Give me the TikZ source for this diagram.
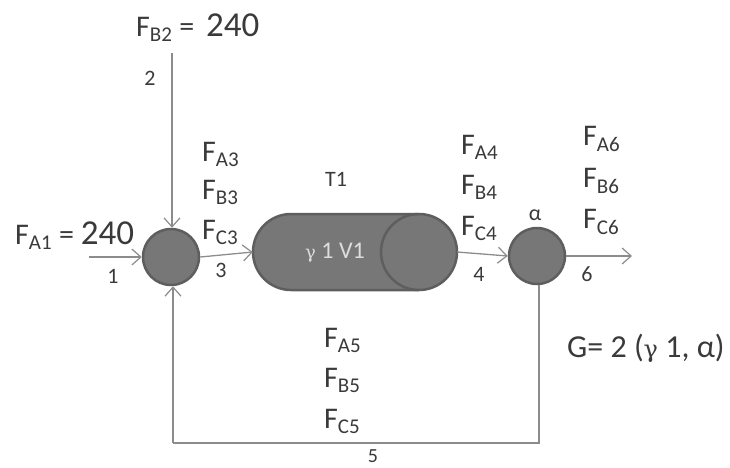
\documentclass[tikz,border=0pt]{standalone}
\usepackage{fontspec}
\setmainfont{Carlito}
\newfontfamily\gk{DejaVu Serif}
\usetikzlibrary{arrows.meta}
\definecolor{fillg}{HTML}{777777}
\definecolor{edgeg}{HTML}{5E5E5E}
\definecolor{lineg}{HTML}{8C8C8C}
\definecolor{textg}{HTML}{3A3A3A}
\newcommand{\lab}[2]{F\textsubscript{#1#2}}
\newcommand{\num}[1]{{\fontsize{35}{36}\selectfont #1}}
\tikzset{x=1pt,y=-1pt,
 unit/.style={circle,draw=edgeg,fill=fillg,line width=2.5pt,minimum size=56pt,inner sep=0pt},
 flow/.style={draw=lineg,line width=1.3pt,-{Straight Barb[length=9pt,width=16pt,line width=1.2pt]}},
 plain/.style={draw=lineg,line width=1.3pt},
 big/.style={font=\fontsize{30}{32}\selectfont,text=textg,inner sep=0pt},
 small/.style={font=\fontsize{22}{24}\selectfont,text=textg,inner sep=0pt}}
\begin{document}
\begin{tikzpicture}
\useasboundingbox (0,0) rectangle (730,467);
\node[unit] (m) at (171,257) {};
\node[unit] (s) at (537,256) {};
\path[draw=edgeg,fill=fillg,line width=2.5pt] (291,214) -- (419,214) arc[start angle=-90,end angle=90,radius=38] -- (291,290) arc[start angle=90,end angle=270,radius=38] -- cycle;
\draw[draw=edgeg,line width=2.5pt] (419,214) arc[start angle=-90,end angle=-270,radius=38];
\node[inner sep=0pt,minimum width=204pt,minimum height=78pt] (t) at (355,252) {};
\node[font=\fontsize{24}{26}\selectfont,text=white!75!fillg,inner sep=0pt] (tl) at (335,253) {{\fontsize{18}{22}\gk γ} 1 V1};
\coordinate (in1) at (89,257);
\coordinate (in2) at (172,53);
\coordinate (out6) at (632,256);
\coordinate (c5a) at (173,443);
\coordinate (c5b) at (539,443);
\draw[flow] (in1) -- (m.west);
\draw[flow] (in2) -- (in2 |- m.north);
\draw[flow] (m.east) -- (t.west);
\draw[flow] (t.east) -- (s.west);
\draw[flow] (s.east) -- (out6);
\draw[plain] (s.south -| c5b) -- (c5b) -- (c5a);
\draw[flow] (c5a) -- (c5a |- m.south);
\node[big,anchor=west] (n1) at (15,236) {\lab{A}{1} = \num{240}};
\node[big,anchor=west] (n2) at (136,28) {\lab{B}{2} =\, \num{240}};
\foreach \n/\x/\y/\t in {l1/113/276/1,l2/150/78/2,l3/221/270/3,l4/479/274/4,l6/587/274/6,tt/336/179/T1}
  \node[small] (\n) at (\x,\y) {\t};
\node[font=\fontsize{20}{22}\selectfont,text=textg,inner sep=0pt] (l5) at (373,456) {5};
\node[small] (al) at (535,215) {α};
\foreach \n/\x/\y/\t/\u in {a3/202/154/A/3,b3/202/192/B/3,c3/202/232/C/3,a4/461/147/A/4,b4/461/187/B/4,c4/461/228/C/4,a6/583/139/A/6,b6/583/181/B/6,c6/583/222/C/6,a5/324/340/A/5,b5/324/380/B/5,c5/324/421/C/5}
  \node[big,anchor=west] (\n) at (\x,\y) {\lab{\t}{\u}};
\node[big,anchor=west,font=\fontsize{32}{34}\selectfont] (g) at (567,348) {G= 2 ({\fontsize{24}{26}\gk γ} 1, α)};
\end{tikzpicture}
\end{document}
